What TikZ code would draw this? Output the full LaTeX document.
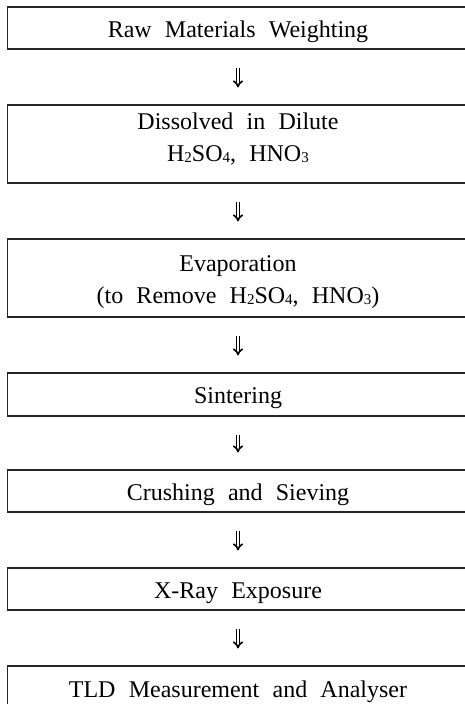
\documentclass[tikz,border=0pt]{standalone}
\usepackage{fontspec}
\setmainfont{Liberation Serif}
\usetikzlibrary{arrows.meta}
\newcommand{\sbs}[1]{\raisebox{-1.5pt}{\fontsize{15}{15}\selectfont #1}}
\tikzset{
  stepbox/.style={draw=black!85, line width=1.1pt, minimum width=461pt, inner sep=0pt,
    align=center, text height=18pt, text depth=0pt,
    font={\fontsize{24}{32}\selectfont\spaceskip=0.55em plus 0.1em\relax}},
  flowarrow/.style={draw=black, double, double distance=1.6pt, line width=1.6pt,
    -{Implies[length=4pt]}, shorten <=18pt, shorten >=17pt}
}
\begin{document}
\begin{tikzpicture}[x=1pt,y=-1pt]
\useasboundingbox (0,0) rectangle (465,704);
\clip (0,0) rectangle (465,704);
\node[stepbox, minimum height=42pt] (b1) at (238,28) {Raw Materials Weighting};
\node[stepbox, minimum height=78pt, text height=34pt] (b2) at (238,144) {Dissolved in Dilute\\H\sbs{2}SO\sbs{4}, HNO\sbs{3}};
\node[stepbox, minimum height=78pt, text height=50pt] (b3) at (238,278) {Evaporation\\(to Remove H\sbs{2}SO\sbs{4}, HNO\sbs{3})};
\node[stepbox, minimum height=43pt] (b4) at (238,394.5) {Sintering};
\node[stepbox, minimum height=42pt] (b5) at (238,491) {Crushing and Sieving};
\node[stepbox, minimum height=42pt] (b6) at (238,589) {X-Ray Exposure};
\node[stepbox, minimum height=44pt] (b7) at (238,688) {TLD Measurement and Analyser};
\draw[flowarrow] (b1.south) -- (b2.north);
\draw[flowarrow] (b2.south) -- (b3.north);
\draw[flowarrow] (b3.south) -- (b4.north);
\draw[flowarrow] (b4.south) -- (b5.north);
\draw[flowarrow] (b5.south) -- (b6.north);
\draw[flowarrow] (b6.south) -- (b7.north);
\end{tikzpicture}
\end{document}
